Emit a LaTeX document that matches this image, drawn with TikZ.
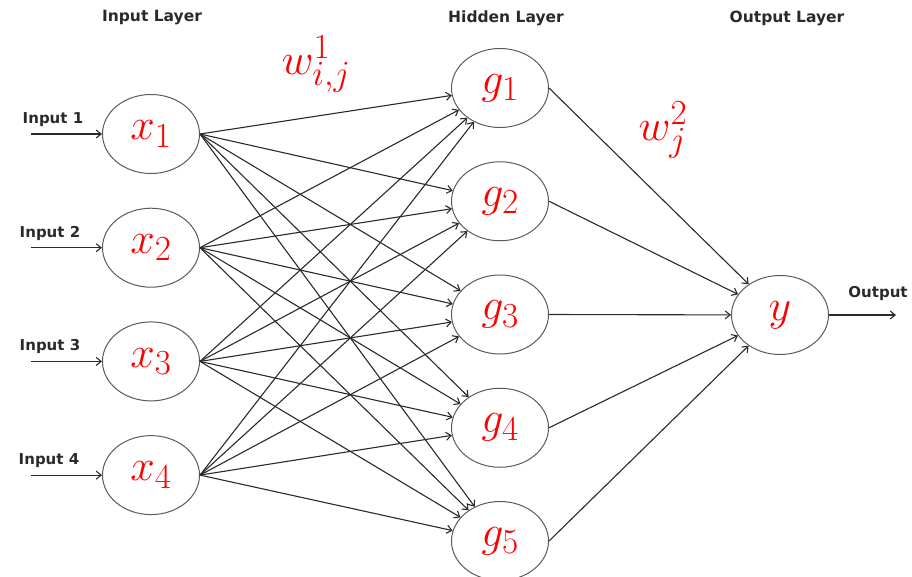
\RequirePackage{fix-cm}
\documentclass[tikz,border=0pt]{standalone}
\usepackage{fontspec}
\usepackage{tikz}
\usetikzlibrary{shapes.geometric,arrows.meta,positioning}
\newfontfamily\uifont{DejaVu Sans}
\renewcommand\defaultscriptratio{.8}
\definecolor{edge}{HTML}{2A2A2A}
\definecolor{rim}{HTML}{5A5A5A}
\definecolor{wred}{HTML}{FF0000}

\begin{document}
\begin{tikzpicture}[x=1pt,y=-1pt,neuron/.style={draw=rim,line width=1pt,ellipse,minimum width=97pt,minimum height=79pt,inner sep=0pt,text=wred,font=\fontsize{44}{50}\selectfont},title/.style={text=edge,font=\uifont\bfseries\fontsize{15.5}{17}\selectfont},lbl/.style={text=edge,font=\uifont\bfseries\fontsize{15}{17}\selectfont},wlbl/.style={text=wred,font=\fontsize{44}{50}\selectfont},arr/.style={-{Straight Barb[length=5pt,width=8pt]},draw=edge,line width=1.1pt}]
\useasboundingbox (0,0) rectangle (912,576);
\node[title] (tin) at (152,18) {Input Layer};
\node[title] (thid) at (506,18) {Hidden Layer};
\node[title] (tout) at (787,18) {Output Layer};
\node[neuron] (x1) at (151,134) {$x_1$};
\node[neuron,below=33.7pt of x1] (x2) {$x_2$};
\node[neuron,below=33.7pt of x2] (x3) {$x_3$};
\node[neuron,below=33.7pt of x3] (x4) {$x_4$};
\node[neuron] (g1) at (500,88) {$g_1$};
\node[neuron,below=33.25pt of g1] (g2) {$g_2$};
\node[neuron,below=33.25pt of g2] (g3) {$g_3$};
\node[neuron,below=33.25pt of g3] (g4) {$g_4$};
\node[neuron,below=33.25pt of g4] (g5) {$g_5$};
\node[neuron] (y) at (780,315) {$y$};
\node[wlbl] (w1) at (316,64) {$w^1_{i,j}$};
\node[wlbl] (w2) at (663,130) {$w^2_j$};
% inputs and output
\coordinate[left=71pt of x1.west] (in1); \coordinate[left=71pt of x2.west] (in2);
\coordinate[left=71pt of x3.west] (in3); \coordinate[left=71pt of x4.west] (in4);
\coordinate[right=67pt of y.east] (out);
\node[lbl,above=4pt of in1,xshift=22pt] (lin1) {Input 1};
\node[lbl,above=4pt of in2,xshift=19pt] (lin2) {Input 2};
\node[lbl,above=4pt of in3,xshift=19pt] (lin3) {Input 3};
\node[lbl,above=4pt of in4,xshift=18pt] (lin4) {Input 4};
\node[lbl,above=11pt of out,xshift=-18pt] (lout) {Output};
\draw[arr] (in1)--(x1.west); \draw[arr] (in2)--(x2.west); \draw[arr] (in3)--(x3.west); \draw[arr] (in4)--(x4.west);
\draw[arr] (y.east)--(out);
% input -> hidden
\draw[arr] (x1.east)--(g1); \draw[arr] (x1.east)--(g2); \draw[arr] (x1.east)--(g3); \draw[arr] (x1.east)--(g4); \draw[arr] (x1.east)--(g5);
\draw[arr] (x2.east)--(g1); \draw[arr] (x2.east)--(g2); \draw[arr] (x2.east)--(g3); \draw[arr] (x2.east)--(g4); \draw[arr] (x2.east)--(g5);
\draw[arr] (x3.east)--(g1); \draw[arr] (x3.east)--(g2); \draw[arr] (x3.east)--(g3); \draw[arr] (x3.east)--(g4); \draw[arr] (x3.east)--(g5);
\draw[arr] (x4.east)--(g1); \draw[arr] (x4.east)--(g2); \draw[arr] (x4.east)--(g3); \draw[arr] (x4.east)--(g4); \draw[arr] (x4.east)--(g5);
% hidden -> output
\draw[arr] (g1.east)--(y); \draw[arr] (g2.east)--(y); \draw[arr] (g3.east)--(y); \draw[arr] (g4.east)--(y); \draw[arr] (g5.east)--(y);
\end{tikzpicture}
\end{document}
